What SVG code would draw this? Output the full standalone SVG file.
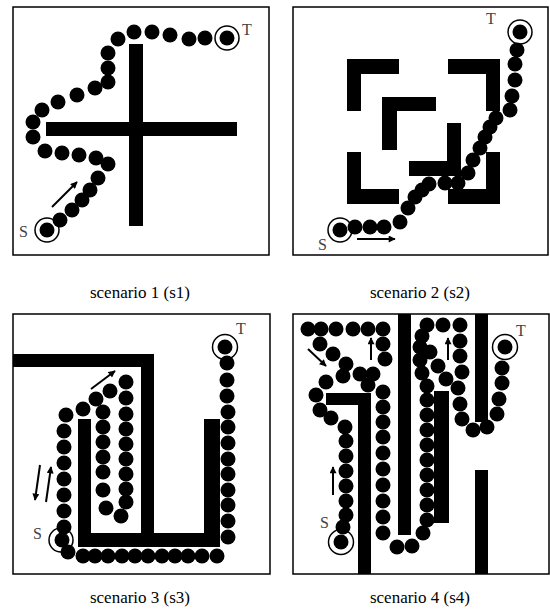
<svg xmlns="http://www.w3.org/2000/svg" width="550" height="612" viewBox="0 0 550 612">
<style>
.frame{fill:#fff;stroke:#000;stroke-width:1.5}
.wall{fill:#000}
.d circle{fill:#000;r:7.5px}
.ring{fill:#fff;stroke:#000;stroke-width:1.5}
.lbl{font-family:"Liberation Serif",serif;font-size:16px;fill:#444}
.cap{font-family:"Liberation Serif",serif;font-size:17px;fill:#000;text-anchor:middle}
.arr{stroke:#000;stroke-width:2;fill:none;marker-end:url(#ah)}
</style>
<defs>
<marker id="ah" viewBox="0 0 10 10" refX="9" refY="5" markerWidth="8" markerHeight="7" orient="auto" markerUnits="userSpaceOnUse"><path d="M0,0L10,5L0,10z" fill="#000"/></marker>
</defs>
<rect width="550" height="612" fill="#fff"/>

<g id="s1">
<rect class="frame" x="13" y="7" width="256" height="248"/>
<rect class="wall" x="46" y="122" width="191" height="14"/>
<rect class="wall" x="129" y="44" width="14" height="182"/>
<circle class="ring" cx="47" cy="230" r="12"/>
<circle class="ring" cx="227" cy="38" r="12"/>
<g class="d">
<circle cx="47" cy="230" r="7"/><circle cx="227" cy="38" r="7"/>
<circle cx="60" cy="220" r="7"/><circle cx="72" cy="210" r="7"/><circle cx="82" cy="200" r="7"/><circle cx="90" cy="190" r="7"/><circle cx="98" cy="178" r="7"/><circle cx="108" cy="164" r="7"/><circle cx="96" cy="158" r="7"/><circle cx="79" cy="155" r="7"/><circle cx="62" cy="153" r="7"/><circle cx="45" cy="151" r="7"/><circle cx="33" cy="137" r="7"/><circle cx="33" cy="122" r="7"/><circle cx="42" cy="110" r="7"/><circle cx="58" cy="102" r="7"/><circle cx="77" cy="95" r="7"/><circle cx="95" cy="88" r="7"/><circle cx="108" cy="82" r="7"/><circle cx="108" cy="68" r="7"/><circle cx="108" cy="53" r="7"/><circle cx="118" cy="39" r="7"/><circle cx="134" cy="32" r="7"/><circle cx="152" cy="32" r="7"/><circle cx="170" cy="35" r="7"/><circle cx="189" cy="39" r="7"/><circle cx="205" cy="38" r="7"/>
</g>
<path class="arr" d="M52,207L77,182"/>
<text class="lbl" x="19" y="237">S</text>
<text class="lbl" x="242" y="35">T</text>
<text class="cap" x="140" y="298">scenario 1 (s1)</text>
</g>

<g id="s2">
<rect class="frame" x="293" y="7" width="255" height="248"/>
<rect class="wall" x="347" y="59" width="52" height="15"/>
<rect class="wall" x="347" y="59" width="14" height="52"/>
<rect class="wall" x="448" y="59" width="52" height="15"/>
<rect class="wall" x="486" y="59" width="14" height="52"/>
<rect class="wall" x="347" y="152" width="14" height="52"/>
<rect class="wall" x="347" y="189" width="52" height="15"/>
<rect class="wall" x="486" y="152" width="14" height="52"/>
<rect class="wall" x="448" y="189" width="52" height="15"/>
<rect class="wall" x="382" y="97" width="54" height="14"/>
<rect class="wall" x="382" y="97" width="15" height="53"/>
<rect class="wall" x="447" y="123" width="14" height="53"/>
<rect class="wall" x="409" y="161" width="52" height="15"/>
<circle class="ring" cx="340" cy="230" r="12"/>
<circle class="ring" cx="520" cy="32" r="12"/>
<g class="d">
<circle cx="340" cy="230" r="7"/><circle cx="520" cy="32" r="7"/>
<circle cx="355" cy="227" r="7"/><circle cx="370" cy="227" r="7"/><circle cx="384" cy="227" r="7"/><circle cx="400" cy="222" r="7"/><circle cx="408" cy="208" r="7"/><circle cx="415" cy="197" r="7"/><circle cx="422" cy="190" r="7"/><circle cx="429" cy="184" r="7"/><circle cx="445" cy="183" r="7"/><circle cx="458" cy="183" r="7"/><circle cx="468" cy="173" r="7"/><circle cx="473" cy="160" r="7"/><circle cx="480" cy="148" r="7"/><circle cx="485" cy="137" r="7"/><circle cx="490" cy="127" r="7"/><circle cx="496" cy="118" r="7"/><circle cx="510" cy="110" r="7"/><circle cx="512" cy="96" r="7"/><circle cx="515" cy="80" r="7"/><circle cx="515" cy="64" r="7"/><circle cx="517" cy="50" r="7"/>
</g>
<path class="arr" d="M357,239L395,239"/>
<text class="lbl" x="318" y="250">S</text>
<text class="lbl" x="486" y="24">T</text>
<text class="cap" x="420" y="298">scenario 2 (s2)</text>
</g>

<g id="s3">
<rect class="frame" x="13" y="314" width="257" height="260"/>
<rect class="wall" x="13" y="354" width="141" height="13"/>
<rect class="wall" x="141" y="354" width="13" height="193"/>
<rect class="wall" x="78" y="419" width="13" height="128"/>
<rect class="wall" x="78" y="533" width="142" height="14"/>
<rect class="wall" x="204" y="419" width="16" height="128"/>
<circle class="ring" cx="61" cy="540" r="12"/>
<circle class="ring" cx="225" cy="347" r="12.5"/>
<g class="d">
<circle cx="225" cy="347" r="7"/><circle cx="62" cy="540" r="7"/><circle cx="68" cy="552" r="7"/>
<circle cx="227" cy="363" r="7"/><circle cx="227" cy="380" r="7"/><circle cx="227" cy="396" r="7"/><circle cx="228" cy="412" r="7"/><circle cx="228" cy="427" r="7"/><circle cx="228" cy="443" r="7"/><circle cx="228" cy="459" r="7"/><circle cx="228" cy="474" r="7"/><circle cx="228" cy="490" r="7"/><circle cx="228" cy="505" r="7"/><circle cx="228" cy="521" r="7"/><circle cx="228" cy="537" r="7"/>
<circle cx="217" cy="556" r="7"/><circle cx="202" cy="556" r="7"/><circle cx="188" cy="556" r="7"/><circle cx="175" cy="556" r="7"/><circle cx="162" cy="556" r="7"/><circle cx="148" cy="556" r="7"/><circle cx="135" cy="556" r="7"/><circle cx="122" cy="556" r="7"/><circle cx="108" cy="556" r="7"/><circle cx="95" cy="556" r="7"/><circle cx="83" cy="556" r="7"/>
<circle cx="64" cy="527" r="7"/><circle cx="64" cy="511" r="7"/><circle cx="64" cy="495" r="7"/><circle cx="64" cy="479" r="7"/><circle cx="64" cy="463" r="7"/><circle cx="64" cy="447" r="7"/><circle cx="64" cy="431" r="7"/><circle cx="66" cy="415" r="7"/>
<circle cx="83" cy="409" r="7"/><circle cx="96" cy="399" r="7"/><circle cx="110" cy="391" r="7"/><circle cx="126" cy="382" r="7"/>
<circle cx="103" cy="412" r="7"/><circle cx="103" cy="427" r="7"/><circle cx="103" cy="442" r="7"/><circle cx="103" cy="457" r="7"/><circle cx="103" cy="472" r="7"/><circle cx="103" cy="490" r="7"/><circle cx="106" cy="508" r="7"/><circle cx="121" cy="516" r="7"/>
<circle cx="126" cy="398" r="7"/><circle cx="126" cy="414" r="7"/><circle cx="126" cy="429" r="7"/><circle cx="126" cy="444" r="7"/><circle cx="126" cy="459" r="7"/><circle cx="126" cy="474" r="7"/><circle cx="126" cy="489" r="7"/><circle cx="126" cy="502" r="7"/>
</g>
<path class="arr" d="M91,389L115,371"/>
<path class="arr" d="M40,465L35,500"/>
<path class="arr" d="M46,502L51,467"/>
<text class="lbl" x="33" y="539">S</text>
<text class="lbl" x="236" y="334">T</text>
<text class="cap" x="140" y="603">scenario 3 (s3)</text>
</g>

<g id="s4">
<rect class="frame" x="293" y="314" width="256" height="260"/>
<rect class="wall" x="398" y="314" width="13" height="221"/>
<rect class="wall" x="475" y="314" width="13" height="108"/>
<rect class="wall" x="475" y="470" width="13" height="104"/>
<rect class="wall" x="326" y="393" width="45" height="12"/>
<rect class="wall" x="358" y="393" width="13" height="181"/>
<rect class="wall" x="434" y="391" width="15" height="132"/>
<circle class="ring" cx="341" cy="542" r="12.5"/>
<circle class="ring" cx="505" cy="347" r="12.5"/>
<g class="d">
<circle cx="341" cy="542" r="7"/><circle cx="505" cy="347" r="7"/>
<circle cx="308" cy="329" r="7"/><circle cx="321" cy="329" r="7"/><circle cx="336" cy="329" r="7"/><circle cx="353" cy="329" r="7"/><circle cx="368" cy="329" r="7"/><circle cx="383" cy="329" r="7"/>
<circle cx="320" cy="344" r="7"/><circle cx="333" cy="354" r="7"/><circle cx="346" cy="364" r="7"/><circle cx="343" cy="376" r="7"/><circle cx="360" cy="374" r="7"/><circle cx="373" cy="374" r="7"/><circle cx="368" cy="385" r="7"/><circle cx="383" cy="344" r="7"/><circle cx="385" cy="359" r="7"/>
<circle cx="326" cy="382" r="7"/><circle cx="316" cy="395" r="7"/><circle cx="320" cy="410" r="7"/><circle cx="331" cy="418" r="7"/><circle cx="345" cy="427" r="7"/><circle cx="346" cy="441" r="7"/><circle cx="346" cy="456" r="7"/><circle cx="346" cy="471" r="7"/><circle cx="346" cy="486" r="7"/><circle cx="346" cy="501" r="7"/><circle cx="346" cy="515" r="7"/><circle cx="343" cy="527" r="7"/>
<circle cx="383" cy="392" r="7"/><circle cx="383" cy="407" r="7"/><circle cx="383" cy="422" r="7"/><circle cx="383" cy="437" r="7"/><circle cx="383" cy="453" r="7"/><circle cx="383" cy="469" r="7"/><circle cx="383" cy="485" r="7"/><circle cx="383" cy="501" r="7"/><circle cx="383" cy="517" r="7"/><circle cx="383" cy="533" r="7"/>
<circle cx="397" cy="547" r="7"/><circle cx="412" cy="546" r="7"/><circle cx="423" cy="533" r="7"/>
<circle cx="427" cy="520" r="7"/><circle cx="427" cy="505" r="7"/><circle cx="427" cy="490" r="7"/><circle cx="427" cy="475" r="7"/><circle cx="427" cy="460" r="7"/><circle cx="427" cy="445" r="7"/><circle cx="427" cy="430" r="7"/><circle cx="427" cy="415" r="7"/><circle cx="427" cy="400" r="7"/><circle cx="427" cy="386" r="7"/>
<circle cx="422" cy="373" r="7"/><circle cx="420" cy="360" r="7"/><circle cx="420" cy="347" r="7"/><circle cx="422" cy="336" r="7"/><circle cx="427" cy="325" r="7"/><circle cx="443" cy="325" r="7"/><circle cx="460" cy="325" r="7"/>
<circle cx="430" cy="352" r="7"/><circle cx="438" cy="366" r="7"/><circle cx="446" cy="379" r="7"/>
<circle cx="460" cy="341" r="7"/><circle cx="460" cy="356" r="7"/><circle cx="462" cy="372" r="7"/><circle cx="458" cy="388" r="7"/><circle cx="460" cy="404" r="7"/><circle cx="462" cy="419" r="7"/><circle cx="473" cy="430" r="7"/><circle cx="487" cy="427" r="7"/><circle cx="497" cy="414" r="7"/><circle cx="499" cy="399" r="7"/><circle cx="502" cy="383" r="7"/><circle cx="502" cy="368" r="7"/>
</g>
<path class="arr" d="M308,349L326,366"/>
<path class="arr" d="M371,360L371,338"/>
<path class="arr" d="M418,347L423,372"/>
<path class="arr" d="M448,360L448,338"/>
<path class="arr" d="M333,495L333,467"/>
<text class="lbl" x="320" y="528">S</text>
<text class="lbl" x="516" y="336">T</text>
<text class="cap" x="420" y="603">scenario 4 (s4)</text>
</g>
</svg>
